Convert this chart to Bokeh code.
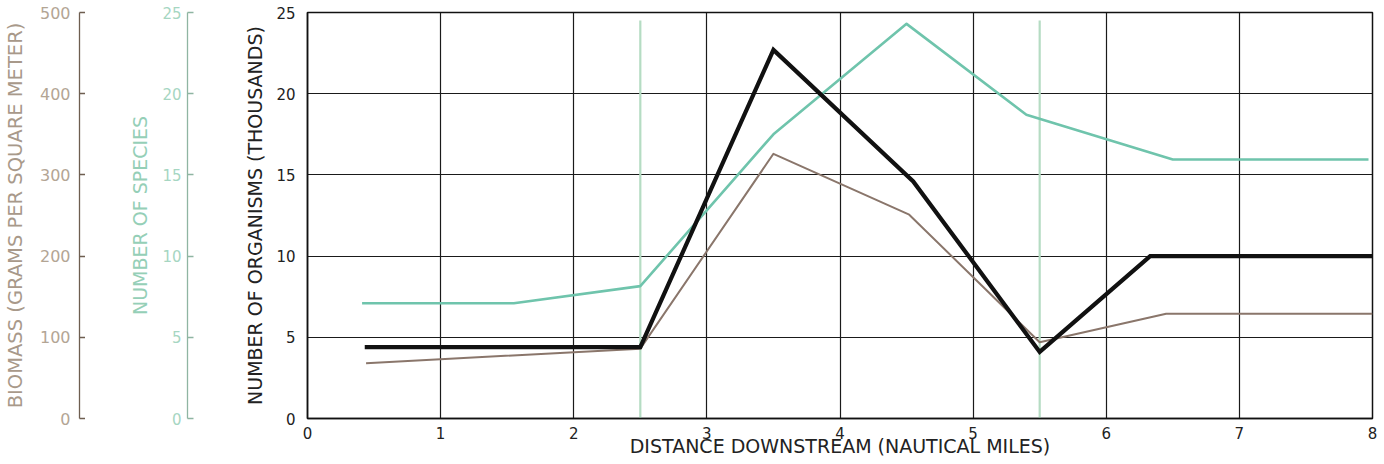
from bokeh.plotting import figure
from bokeh.layouts import row
from bokeh.models import Range1d, FixedTicker
from bokeh.embed import file_html
from bokeh.resources import INLINE

# ---- data ----
x_ticks = [0, 1, 2, 3, 4, 5, 6, 7, 8]
organism_ticks = [0, 5, 10, 15, 20, 25]
species_ticks = [0, 5, 10, 15, 20, 25]
biomass_ticks = [0, 100, 200, 300, 400, 500]

dist_organisms = [0.43, 2.5, 3.5, 4.55, 5.5, 6.33, 8.0]
organisms = [4.4, 4.4, 22.7, 14.6, 4.1, 10.0, 10.0]          # thousands

dist_species = [0.41, 1.55, 2.5, 3.5, 4.5, 5.4, 6.5, 7.97]
species = [7.1, 7.1, 8.15, 17.5, 24.3, 18.7, 15.95, 15.95]

dist_biomass = [0.44, 2.5, 3.5, 4.52, 5.5, 6.45, 8.0]
biomass = [68, 86, 326, 251, 94, 129, 129]                    # g per m^2

marker_x = [2.5, 5.5]
marker_bottom = [0, 0]
marker_top = [24.5, 24.5]

FONT = "DejaVu Sans"
H = 460
TOP = 12
BOTTOM = 42


def side_axis(width, border_left, rng, ticks, label, line_color, label_color,
              axis_label_color, tick_font, label_font, tick_standoff, standoff):
    f = figure(width=width, height=H, output_backend="svg", toolbar_location=None,
               x_range=Range1d(0, 1), y_range=Range1d(*rng),
               x_axis_location=None, y_axis_location="left",
               min_border_left=border_left, min_border_right=0,
               min_border_top=TOP, min_border_bottom=BOTTOM)
    f.outline_line_color = None
    f.grid.visible = False
    f.background_fill_color = None
    f.border_fill_color = None
    ax = f.yaxis[0]
    ax.ticker = FixedTicker(ticks=ticks)
    ax.axis_label = label
    ax.axis_label_text_font = FONT
    ax.axis_label_text_font_size = label_font
    ax.axis_label_text_font_style = "normal"
    ax.axis_label_text_color = axis_label_color
    ax.axis_label_standoff = standoff
    ax.major_label_text_font = FONT
    ax.major_label_text_font_size = tick_font
    ax.major_label_text_color = label_color
    ax.major_label_standoff = tick_standoff
    ax.axis_line_color = line_color
    ax.axis_line_width = 1.3
    ax.major_tick_line_color = line_color
    ax.major_tick_line_width = 1.3
    ax.major_tick_out = 0
    ax.major_tick_in = 6
    ax.minor_tick_line_color = None
    return f


fa = side_axis(85, 77, (0, 500), biomass_ticks, "BIOMASS (GRAMS PER SQUARE METER)",
               "#6e5e50", "#b3a594", "#a8998a", "16px", "19.5px", 9, 10)
fb = side_axis(110, 102, (0, 25), species_ticks, "NUMBER OF SPECIES",
               "#8fb5a2", "#a6d6c2", "#95cfb7", "15px", "19px", 6, 8)

p = figure(width=1189, height=H, output_backend="svg", toolbar_location=None,
           x_range=Range1d(0, 8), y_range=Range1d(0, 25),
           extra_y_ranges={"biomass": Range1d(0, 500), "species": Range1d(0, 25)},
           min_border_left=112, min_border_right=12,
           min_border_top=TOP, min_border_bottom=BOTTOM)
p.outline_line_color = "#111111"
p.outline_line_width = 1.5
p.background_fill_color = "white"
p.border_fill_color = None

p.xaxis.ticker = FixedTicker(ticks=x_ticks)
p.yaxis.ticker = FixedTicker(ticks=organism_ticks)
for g in (p.xgrid, p.ygrid):
    g.grid_line_color = "#1a1a1a"
    g.grid_line_width = 1.2

for ax in (p.xaxis[0], p.yaxis[0]):
    ax.axis_line_color = "#111111"
    ax.axis_line_width = 1.5
    ax.major_tick_line_color = None
    ax.minor_tick_line_color = None
    ax.major_label_text_font = FONT
    ax.major_label_text_font_size = "15px"
    ax.major_label_text_color = "#222222"
    ax.axis_label_text_font = FONT
    ax.axis_label_text_font_size = "19px"
    ax.axis_label_text_font_style = "normal"
    ax.axis_label_text_color = "#222222"

p.xaxis.axis_label = "DISTANCE DOWNSTREAM (NAUTICAL MILES)"
p.xaxis.major_label_standoff = 2
p.xaxis.axis_label_standoff = -7
p.yaxis.axis_label = "NUMBER OF ORGANISMS (THOUSANDS)"
p.yaxis.major_label_standoff = 6
p.yaxis.axis_label_standoff = 7

# pale green marker lines
p.segment(x0=marker_x, y0=marker_bottom, x1=marker_x, y1=marker_top,
          line_color="#b5dcc3", line_width=2.2)

# series
p.line(dist_species, species, y_range_name="species",
       line_color="#6fc4ac", line_width=2.6, line_join="round")
p.line(dist_biomass, biomass, y_range_name="biomass",
       line_color="#8a766b", line_width=2.0, line_join="round")
p.line(dist_organisms, organisms,
       line_color="#111111", line_width=4.2, line_join="miter")

layout = row(fa, fb, p, spacing=0)

open("out.html", "w").write(file_html(layout, INLINE))
